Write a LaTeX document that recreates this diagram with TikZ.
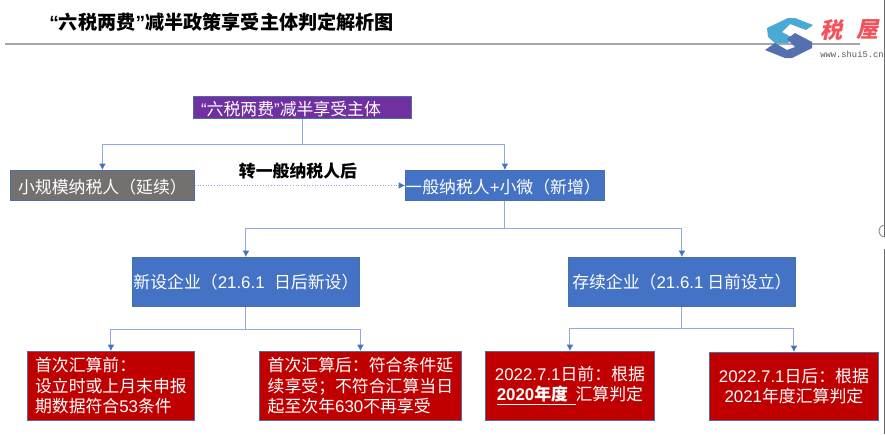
\documentclass[tikz,border=0pt]{standalone}
\usepackage{fontspec}
\usepackage{amsmath}
\usepackage{xcolor}
\usetikzlibrary{arrows.meta}
\setmainfont{Noto Sans CJK SC}
\newfontfamily\latin{Liberation Sans}
\newfontfamily\logofont[FakeSlant=0.2]{Noto Sans CJK SC}
\newfontfamily\webfont{Liberation Mono}
\newcommand{\ltn}[1]{{\latin #1}}
\definecolor{boxblue}{HTML}{4472C4}
\definecolor{boxred}{HTML}{C00000}
\definecolor{boxpurple}{HTML}{7030A0}
\definecolor{boxgray}{HTML}{757070}
\definecolor{boxedge}{HTML}{4A6FA8}
\definecolor{linkblue}{HTML}{8FAADC}
\definecolor{logocyan}{HTML}{4BA9D6}
\definecolor{logoblue}{HTML}{5570B0}
\definecolor{logored}{HTML}{F2525A}
\tikzset{
  box/.style={draw=boxedge,line width=0.5pt,text=white,font=\fontsize{9.6}{11.6}\selectfont,inner sep=0pt,anchor=north west},
  linebox/.style={box,text height=9.6pt,text depth=0pt},
  logochar/.style={text=logored,font=\logofont\bfseries\fontsize{12.6}{14}\selectfont,inner sep=0pt},
  link/.style={draw=linkblue,line width=0.55pt},
  tolink/.style={link,-{Latex[length=3.6pt,width=3.8pt,color=boxblue]}},
}
\begin{document}
\begin{tikzpicture}[x=0.02cm,y=-0.02cm]
    \useasboundingbox (0,0) rectangle (885,434);
    \fill[white] (0,0) rectangle (885,434);
    % heading
    \node[font=\fontsize{10.9}{13}\bfseries\selectfont,anchor=west,inner sep=0pt] (heading) at (49,22) {\ltn{“}六税两费\ltn{”}减半政策享受主体判定解析图};
    \draw[line width=0.6pt,black!35] (5,44) -- (860,44);
    % logo
    \fill[logocyan] (767,28) -- (788,18) -- (795,18) -- (813,25) -- (806,30) -- (790,24) -- (782,32) -- (793,38) -- (788,43) -- (775,43) -- (768,37) -- cycle;
    \fill[logoblue] (765,50) -- (775,43) -- (787,50) -- (795,47) -- (787,39) -- (795,33) -- (812,42) -- (812,48) -- (792,58) -- (785,58) -- cycle;
    \node[logochar] (logotax) at (832,30) {税};
    \node[logochar] (logohouse) at (868,30) {屋};
    \node[text=black!65,font=\webfont\fontsize{5}{6}\selectfont,anchor=west,inner sep=0pt] (logoweb) at (820,54) {www.shui5.cn};
    % window edge
    \draw[line width=0.5pt,black!60] (884,0) -- (884,237);
    \draw[line width=0.5pt,black!60] (884,249) -- (884,434);
    \draw[line width=0.5pt,black!45] (885,237) arc[start angle=90,end angle=270,radius=6];
    % boxes
    \node[linebox,fill=boxpurple,minimum width=4.36cm,minimum height=0.44cm] (main) at (193,96) {\ltn{“}六税两费\ltn{”}减半享受主体\hspace*{13pt}};
    \node[linebox,fill=boxgray,minimum width=3.68cm,minimum height=0.6cm] (small) at (10,170) {小规模纳税人（延续）};
    \node[linebox,fill=boxblue,minimum width=3.94cm,minimum height=0.6cm] (general) at (405,170) {一般纳税人\ltn{+}小微（新增）\hspace*{2pt}};
    \node[box,fill=boxblue,minimum width=4.54cm,minimum height=0.98cm] (newco) at (132,257) {新设企业（\ltn{21.6.1\ \ }日后新设）};
    \node[box,fill=boxblue,minimum width=4.54cm,minimum height=0.98cm] (oldco) at (568,257) {存续企业（\ltn{21.6.1} 日前设立）};
    \node[box,fill=boxred,minimum width=3.34cm,minimum height=1.38cm,align=left] (first) at (27,351) {首次汇算前：\\设立时或上月末申报\\期数据符合\ltn{53}条件};
    \node[box,fill=boxred,minimum width=4.04cm,minimum height=1.38cm,align=left] (second) at (259,351) {首次汇算后：符合条件延\\续享受；不符合汇算当日\\起至次年\ltn{630}不再享受\hspace*{0pt}};
    \node[box,fill=boxred,minimum width=3.38cm,minimum height=1.38cm,align=center] (before) at (485,351) {\ltn{2022.7.1}日前：根据\\\underline{\textbf{\ltn{2020}年度}\ \ }汇算判定};
    \node[box,fill=boxred,minimum width=3.38cm,minimum height=1.36cm,align=center] (after) at (709,352) {\ltn{2022.7.1}日后：根据\\\ltn{2021}年度汇算判定};
    \node[font=\fontsize{9.6}{12}\bfseries\selectfont,inner sep=0pt] (turn) at (298,171) {转一般纳税人后};
    % links
    \draw[tolink] (main.south) -- ++(0,26) -| (small.north);
    \draw[tolink] (main.south) -- ++(0,26) -| (general.north);
    \draw[tolink,densely dotted] (small.east) -- (general.west);
    \draw[tolink] (general.south) -- ++(0,28) -| (newco.north);
    \draw[tolink] (general.south) -- ++(0,28) -| (oldco.north);
    \draw[tolink] (newco.south) -- ++(0,23) -| (first.north);
    \draw[tolink] (newco.south) -- ++(0,23) -| (second.north);
    \draw[tolink] (oldco.south) -- ++(0,22) -| (before.north);
    \draw[tolink] (oldco.south) -- ++(0,22) -| (after.north);
\end{tikzpicture}
\end{document}
